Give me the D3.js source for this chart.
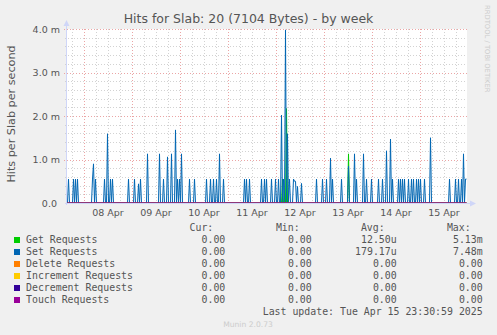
<!DOCTYPE html>
<html>
<head>
<meta charset="utf-8">
<script src="https://cdn.jsdelivr.net/npm/d3@7/dist/d3.min.js"></script>
<style>
  body { margin: 0; background: #f0f0f0; }
  svg { display: block; }
</style>
</head>
<body>
<script>
// ---- data (values in milli-hits per second, slots are 30 min steps from start) ----
let startTime = '2025-04-07 15:30';
let slotCount = 400;

let setSlots = [1, 6, 8, 10, 25, 26, 28, 37, 40, 43, 45, 61, 67, 71, 73, 80, 92, 96, 100, 104,
  108, 110, 112, 114, 122, 127, 139, 143, 146, 149, 152, 156, 177, 179, 182, 194, 197, 199,
  204, 208, 211, 214, 216, 218, 220, 222, 226, 227, 228, 230, 234, 249, 255, 259, 263, 265,
  274, 281, 287, 289, 296, 299, 304, 311, 315, 319, 323, 325, 331, 333, 335, 337, 341, 344,
  346, 349, 351, 353, 357, 363, 382, 388, 391, 394, 396, 398, 399];
let setValues = [0.55, 0.55, 0.55, 0.55, 0.55, 0.9, 0.55, 0.55, 1.59, 0.55, 0.55, 0.55, 0.55, 0.44, 0.55, 1.13, 1.13, 0.55, 1.06, 1.13,
  1.68, 0.55, 0.55, 1.13, 0.55, 0.55, 0.55, 0.55, 0.55, 0.55, 1.13, 0.55, 0.55, 0.55, 0.55, 0.55, 0.55, 0.55,
  0.55, 0.55, 0.55, 2.02, 0.55, 3.98, 1.59, 0.55, 0.55, 0.5, 0.5, 0.38, 0.45, 0.55, 0.55, 0.55, 1.03, 0.55,
  0.55, 0.85, 1.13, 0.55, 1.13, 0.55, 0.55, 0.55, 0.55, 1.2, 1.47, 0.55, 0.55, 0.55, 0.55, 0.55, 0.55, 0.55,
  0.55, 0.55, 0.55, 0.55, 0.55, 1.5, 0.55, 0.55, 0.55, 0.55, 1.13, 0.55, 0.55];

let getSlots = [215, 219, 281];
let getValues = [0.55, 2.17, 1.13];

let seriesNames = ['Get Requests', 'Set Requests', 'Delete Requests', 'Increment Requests', 'Decrement Requests', 'Touch Requests'];
let seriesColors = ['#00cc00', '#0066b3', '#ff8000', '#ffcc00', '#330099', '#990099'];
let curValues = ['0.00 ', '0.00 ', '0.00 ', '0.00 ', '0.00 ', '0.00 '];
let minValues = ['0.00 ', '0.00 ', '0.00 ', '0.00 ', '0.00 ', '0.00 '];
let avgValues = ['12.50u', '179.17u', '0.00 ', '0.00 ', '0.00 ', '0.00 '];
let maxValues = ['5.13m', '7.48m', '0.00 ', '0.00 ', '0.00 ', '0.00 '];

let yTicks = [0, 1, 2, 3, 4];
let yTickLabels = ['0.0 ', '1.0 m', '2.0 m', '3.0 m', '4.0 m'];

let title = 'Hits for Slab: 20 (7104 Bytes) - by week';
let yTitle = 'Hits per Slab per second';
let lastUpdate = 'Last update: Tue Apr 15 23:30:59 2025';

// ---- layout ----
let W = 497, H = 335;
let plot = { left: 67, right: 467, top: 29, bottom: 203 };
let fontSans = 'DejaVu Sans, sans-serif';
let fontMono = 'DejaVu Sans Mono, monospace';
let textColor = '#555';

let parseTime = d3.utcParse('%Y-%m-%d %H:%M');
let t0 = parseTime(startTime);
let slotTime = i => new Date(t0.getTime() + i * 30 * 60 * 1000);
let t1 = slotTime(slotCount);

// build one full series per legend entry from the spike lists
function buildSeries(slots, values) {
  let arr = d3.range(slotCount).map(i => ({ t: slotTime(i), v: 0 }));
  slots.forEach((s, k) => { arr[s].v = values[k]; });
  return arr;
}
let series = [
  buildSeries(getSlots, getValues),
  buildSeries(setSlots, setValues),
  buildSeries([], []),
  buildSeries([], []),
  buildSeries([], []),
  buildSeries([], [])
];

let svg = d3.select('body').append('svg')
    .attr('width', W)
    .attr('height', H);

svg.append('rect').attr('width', W).attr('height', H).attr('fill', '#f0f0f0');

let x = d3.scaleUtc().domain([t0, t1]).range([plot.left, plot.right]);
let y = d3.scaleLinear().domain([0, 4]).range([plot.bottom, plot.top]);

// canvas
svg.append('rect')
    .attr('x', plot.left).attr('y', plot.top)
    .attr('width', plot.right - plot.left).attr('height', plot.bottom - plot.top)
    .attr('fill', '#fff');

let grid = svg.append('g').attr('shape-rendering', 'crispEdges');

// minor grid
let minorX = d3.utcHour.every(6).range(t0, t1).filter(d => d.getUTCHours() !== 0);
grid.selectAll('.mx').data(minorX).enter().append('line')
    .attr('x1', d => Math.round(x(d)) + 0.5).attr('x2', d => Math.round(x(d)) + 0.5)
    .attr('y1', plot.top).attr('y2', plot.bottom + 2)
    .attr('stroke', '#d2d2d2').attr('stroke-dasharray', '1,2');

let minorY = d3.range(0.2, 4.01, 0.2).filter(v => Math.abs(v - Math.round(v)) > 0.01);
grid.selectAll('.my').data(minorY).enter().append('line')
    .attr('x1', plot.left - 2).attr('x2', plot.right)
    .attr('y1', d => Math.round(y(d)) + 0.5).attr('y2', d => Math.round(y(d)) + 0.5)
    .attr('stroke', '#d2d2d2').attr('stroke-dasharray', '1,2');

// major grid
let majorX = d3.utcDay.every(1).range(t0, t1);
grid.selectAll('.Mx').data(majorX).enter().append('line')
    .attr('x1', d => Math.round(x(d)) + 0.5).attr('x2', d => Math.round(x(d)) + 0.5)
    .attr('y1', plot.top).attr('y2', plot.bottom + 3)
    .attr('stroke', '#eba5a5').attr('stroke-dasharray', '1,2');

grid.selectAll('.My').data(yTicks.filter(v => v > 0)).enter().append('line')
    .attr('x1', plot.left - 3).attr('x2', plot.right)
    .attr('y1', d => Math.round(y(d)) + 0.5).attr('y2', d => Math.round(y(d)) + 0.5)
    .attr('stroke', '#eba5a5').attr('stroke-dasharray', '1,2');

// series lines, points sit on pixel centres like rrdtool
let line = d3.line()
    .x(d => x(d.t) + 0.5)
    .y(d => y(d.v));

svg.selectAll('.series').data(series).enter().append('path')
    .attr('class', 'series')
    .attr('d', line)
    .attr('fill', 'none')
    .attr('stroke', (d, i) => seriesColors[i])
    .attr('stroke-width', 1);

// axes
let axisColor = '#cfd6f8';
svg.append('line')
    .attr('x1', plot.left - 0.5).attr('x2', plot.left - 0.5)
    .attr('y1', plot.bottom + 2).attr('y2', plot.top - 5)
    .attr('stroke', axisColor);
svg.append('path')
    .attr('d', `M${plot.left - 3.5},${plot.top - 3} L${plot.left - 0.5},${plot.top - 9} L${plot.left + 2.5},${plot.top - 3} Z`)
    .attr('fill', axisColor);
svg.append('line')
    .attr('x1', plot.left - 2).attr('x2', plot.right + 4)
    .attr('y1', plot.bottom + 0.5).attr('y2', plot.bottom + 0.5)
    .attr('stroke', axisColor);
svg.append('path')
    .attr('d', `M${plot.right + 3},${plot.bottom - 2.5} L${plot.right + 9},${plot.bottom + 0.5} L${plot.right + 3},${plot.bottom + 3.5} Z`)
    .attr('fill', axisColor);

// y tick labels
svg.selectAll('.ylab').data(yTicks).enter().append('text')
    .attr('x', plot.left - 7)
    .attr('y', d => y(d) + 3.5)
    .attr('text-anchor', 'end')
    .style('white-space', 'pre')
    .attr('font-family', fontSans).attr('font-size', 9.5)
    .attr('fill', textColor)
    .text((d, i) => yTickLabels[i]);

// x labels at noon of each day
let noonTicks = d3.utcHour.every(1).range(t0, t1).filter(d => d.getUTCHours() === 12);
let fmtDay = d3.utcFormat('%d %b');
svg.selectAll('.xlab').data(noonTicks).enter().append('text')
    .attr('x', d => x(d))
    .attr('y', 216)
    .attr('text-anchor', 'middle')
    .attr('font-family', fontSans).attr('font-size', 9.5)
    .attr('fill', textColor)
    .text(fmtDay);

// title
svg.append('text')
    .attr('x', 248.5).attr('y', 23)
    .attr('text-anchor', 'middle')
    .attr('font-family', fontSans).attr('font-size', 12.5)
    .attr('fill', textColor)
    .text(title);

svg.append('text')
    .attr('transform', 'translate(15,114) rotate(-90)')
    .attr('text-anchor', 'middle')
    .attr('font-family', fontSans).attr('font-size', 11.2)
    .attr('fill', textColor)
    .text(yTitle);

svg.append('text')
    .attr('transform', 'translate(485,5) rotate(90)')
    .attr('font-family', fontSans).attr('font-size', 6.8)
    .attr('fill', '#cccccc')
    .text('RRDTOOL / TOBI OETIKER');

// legend
let cols = [219.3 + 6, 305.7 + 6, 390.7 + 6, 476.7 + 6];
let headers = ['Cur:', 'Min:', 'Avg:', 'Max:'];
let legend = svg.append('g')
    .attr('font-family', fontMono).attr('font-size', 9.9)
    .attr('fill', textColor)
    .style('white-space', 'pre');

legend.selectAll('.hdr').data(headers).enter().append('text')
    .attr('x', (d, i) => cols[i] - 12)
    .attr('y', 231)
    .attr('text-anchor', 'end')
    .text(d => d);

let rows = legend.selectAll('.row').data(seriesNames).enter().append('g')
    .attr('transform', (d, i) => `translate(0,${243 + i * 12})`);

rows.append('rect')
    .attr('x', 14).attr('y', -6).attr('width', 6).attr('height', 6)
    .attr('fill', (d, i) => seriesColors[i]);
rows.append('text').attr('x', 26).attr('y', 0).text(d => d);

let valueCols = [curValues, minValues, avgValues, maxValues];
valueCols.forEach((vals, c) => {
  rows.append('text')
      .attr('x', cols[c]).attr('y', 0)
      .attr('text-anchor', 'end')
      .text((d, i) => vals[i]);
});

legend.append('text')
    .attr('x', 482.7).attr('y', 315)
    .attr('text-anchor', 'end')
    .text(lastUpdate);

svg.append('text')
    .attr('x', 248).attr('y', 327)
    .attr('text-anchor', 'middle')
    .attr('font-family', fontSans).attr('font-size', 7.6)
    .attr('fill', '#cccccc')
    .text('Munin 2.0.73');
</script>
</body>
</html>
